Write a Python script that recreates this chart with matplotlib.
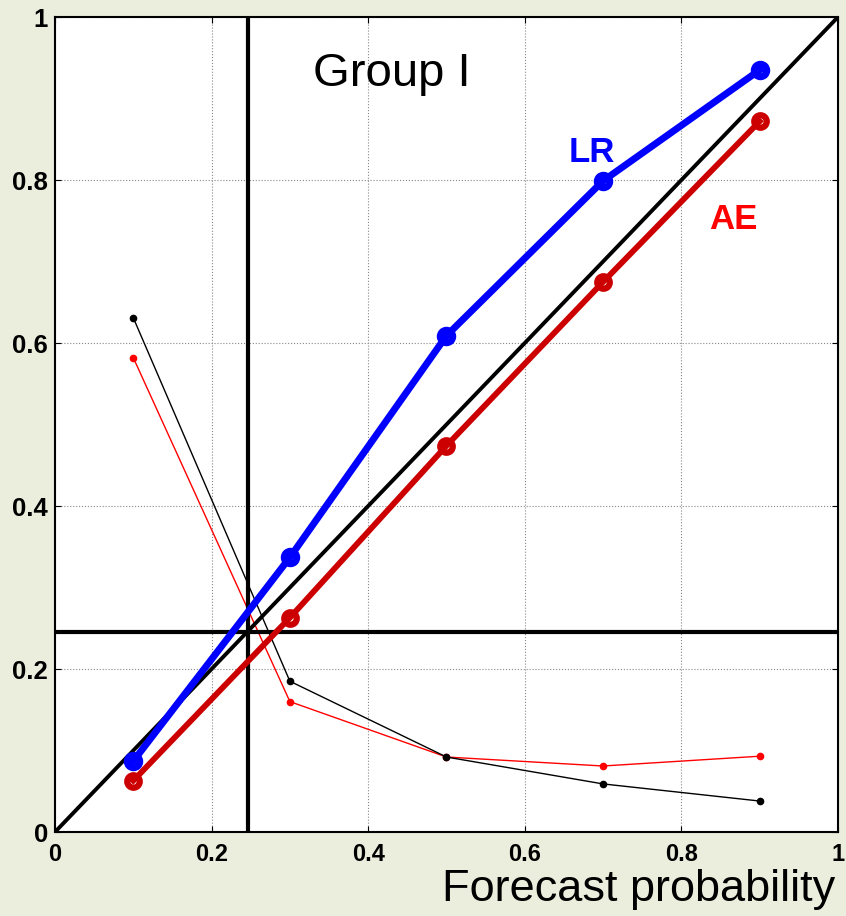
import numpy as np
import matplotlib.pyplot as plt

plt.rcParams['font.family'] = ['Liberation Sans', 'DejaVu Sans']

# forecast probability bins
prob = [0.1, 0.3, 0.5, 0.7, 0.9]
# observed frequency (reliability curves)
lr_obs = [0.087, 0.337, 0.609, 0.799, 0.935]
ae_obs = [0.063, 0.263, 0.474, 0.675, 0.872]
# relative frequency of forecasts (sharpness)
lr_freq = [0.631, 0.185, 0.092, 0.059, 0.038]
ae_freq = [0.582, 0.160, 0.092, 0.081, 0.093]
climatology = 0.246
ticks = [0, 0.2, 0.4, 0.6, 0.8, 1]
tick_labels = ['0', '0.2', '0.4', '0.6', '0.8', '1']

fig = plt.figure(figsize=(8.46, 9.16), dpi=100, facecolor='#ebeedd')
ax = fig.add_axes([0.065, 0.0917, 0.9255, 0.8897])
ax.set_facecolor('white')

ax.grid(True, color='#888888', linestyle=':', linewidth=0.8)
ax.set_axisbelow(True)

# sharpness diagrams
ax.plot(prob, ae_freq, color='red', linewidth=1, marker='o', markersize=4.5, zorder=3)
ax.plot(prob, lr_freq, color='black', linewidth=1, marker='o', markersize=4.5, zorder=3)

# climatology lines and perfect reliability
ax.axvline(climatology, color='black', linewidth=3, zorder=4)
ax.axhline(climatology, color='black', linewidth=3, zorder=4)
ax.plot([0, 1], [0, 1], color='black', linewidth=2.8, zorder=4)

# reliability curves
ax.plot(prob, ae_obs, color='#cc0000', linewidth=4.2, marker='o', markersize=9,
        markerfacecolor='none', markeredgewidth=4.5, zorder=5)
ax.plot(prob, lr_obs, color='blue', linewidth=5, marker='o', markersize=9,
        markerfacecolor='none', markeredgewidth=5, zorder=6)

ax.text(0.43, 0.93, 'Group I', fontsize=34, ha='center', va='center', zorder=7)
ax.text(0.685, 0.834, 'LR', fontsize=25, fontweight='bold', color='blue',
        ha='center', va='center', zorder=7)
ax.text(0.866, 0.752, 'AE', fontsize=25, fontweight='bold', color='red',
        ha='center', va='center', zorder=7)

ax.set_xlim(0, 1)
ax.set_ylim(0, 1)
ax.set_xticks(ticks)
ax.set_yticks(ticks)
ax.set_xticklabels(tick_labels, fontsize=17, fontweight='bold')
ax.set_yticklabels(tick_labels, fontsize=18.5, fontweight='bold')
ax.tick_params(axis='x', pad=8)
ax.tick_params(axis='y', pad=5)
ax.tick_params(direction='in', top=True, right=True, length=4)
for s in ax.spines.values():
    s.set_linewidth(1.5)

fig.text(0.987, 0.016, 'Forecast probability', fontsize=32.5, ha='right', va='baseline')

fig.savefig('out.png', dpi=100, facecolor=fig.get_facecolor())
